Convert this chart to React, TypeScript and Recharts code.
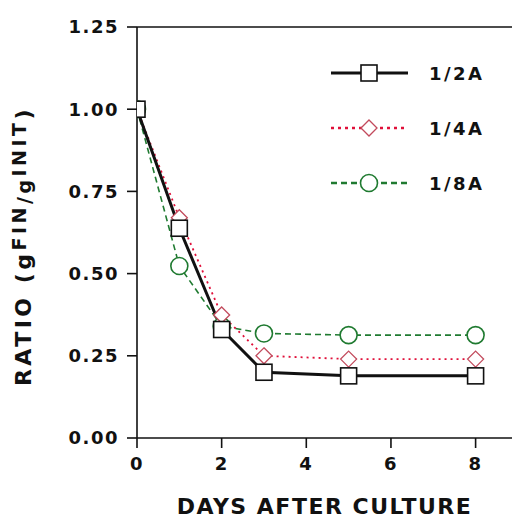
import React from 'react'
import {
  LineChart,
  Line,
  XAxis,
  YAxis,
  ReferenceLine,
} from 'recharts'

const days = [0, 1, 2, 3, 5, 8]
const halfA = [1.0, 0.638, 0.33, 0.2, 0.189, 0.189]
const quarterA = [1.0, 0.67, 0.374, 0.25, 0.24, 0.24]
const eighthA = [1.0, 0.523, 0.34, 0.318, 0.313, 0.313]

const xTicks = [0, 2, 4, 6, 8]
const yTicks = [0, 0.25, 0.5, 0.75, 1.0, 1.25]

const data = days.map((d, i) => ({
  day: d,
  half: halfA[i],
  quarter: quarterA[i],
  eighth: eighthA[i],
}))

const FONT = '"DejaVu Sans", Arial, sans-serif'

const SquareDot = (props: any) => {
  const { cx, cy } = props
  if (cx == null || cy == null) return null
  return <rect x={cx - 8} y={cy - 8} width={16} height={16} fill="#fff" stroke="#111" strokeWidth={1.6} />
}

const DiamondDot = (props: any) => {
  const { cx, cy } = props
  if (cx == null || cy == null) return null
  const s = 8
  return (
    <polygon
      points={`${cx},${cy - s} ${cx + s},${cy} ${cx},${cy + s} ${cx - s},${cy}`}
      fill="#fff"
      stroke="#c24a5c"
      strokeWidth={1.3}
    />
  )
}

const CircleDot = (props: any) => {
  const { cx, cy } = props
  if (cx == null || cy == null) return null
  return <circle cx={cx} cy={cy} r={8.5} fill="#fff" stroke="#1f7a30" strokeWidth={1.6} />
}

const legendRows = [
  { name: '1/2A', stroke: '#111', width: 3, dash: undefined, dot: SquareDot },
  { name: '1/4A', stroke: '#e0103a', width: 2.5, dash: '3 4', dot: DiamondDot },
  { name: '1/8A', stroke: '#1f7a30', width: 2.5, dash: '6 4', dot: CircleDot },
]

const LegendBox = () => (
  <svg width={175} height={140}>
    {legendRows.map((r, i) => {
      const y = 13 + i * 55
      const Dot = r.dot
      return (
        <g key={r.name}>
          <line x1={1} x2={78} y1={y} y2={y} stroke={r.stroke} strokeWidth={r.width} strokeDasharray={r.dash} />
          <Dot cx={39} cy={y} />
          <text
            x={99}
            y={y + 7}
            fontFamily={FONT}
            fontWeight="bold"
            fontSize={18}
            letterSpacing={2.5}
            fill="#111"
          >
            {r.name}
          </text>
        </g>
      )
    })}
  </svg>
)

const YLabel = () => (
  <text
    transform="translate(31,246) rotate(-90)"
    textAnchor="middle"
    fontFamily={FONT}
    fontWeight="bold"
    fontSize={22}
    letterSpacing={3.5}
    fill="#111"
  >
    <tspan>RATIO (g</tspan>
    <tspan fontSize={19} dy={-5}>FIN</tspan>
    <tspan fontSize={19} dy={5}>/g</tspan>
    <tspan fontSize={19} dy={-5}>INIT</tspan>
    <tspan dy={5}>)</tspan>
  </text>
)

const tickStyle = { fontFamily: FONT, fontWeight: 'bold', fontSize: 18, fill: '#111', letterSpacing: 1.5 }

export default function App() {
  return (
    <div style={{ position: 'absolute', left: 0, top: 0, width: 512, height: 520, background: '#fff' }}>
      <LineChart width={512} height={520} data={data} margin={{ top: 27, right: 0, bottom: 0, left: 0 }}>
        <XAxis
          dataKey="day"
          type="number"
          domain={[0, 8.86]}
          ticks={xTicks}
          allowDataOverflow
          height={82}
          tickSize={10}
          tickMargin={9}
          tick={tickStyle}
          axisLine={{ stroke: '#111', strokeWidth: 1.6 }}
          tickLine={{ stroke: '#111', strokeWidth: 1.6 }}
          label={{
            value: 'DAYS AFTER CULTURE',
            position: 'insideBottom',
            offset: 6,
            style: { fontFamily: FONT, fontWeight: 'bold', fontSize: 22, fill: '#111', letterSpacing: 1.5 },
          }}
        />
        <YAxis
          type="number"
          domain={[0, 1.25]}
          ticks={yTicks}
          width={137}
          tickSize={10}
          tickMargin={8}
          tick={tickStyle}
          tickFormatter={(v: number) => v.toFixed(2)}
          axisLine={{ stroke: '#111', strokeWidth: 1.6 }}
          tickLine={{ stroke: '#111', strokeWidth: 1.6 }}
          label={<YLabel />}
        />
        <ReferenceLine y={1.25} stroke="#111" strokeWidth={1.6} />
        <Line
          dataKey="eighth"
          name="1/8A"
          stroke="#1f7a30"
          strokeWidth={1.6}
          strokeDasharray="6 4"
          dot={<CircleDot />}
          isAnimationActive={false}
        />
        <Line
          dataKey="quarter"
          name="1/4A"
          stroke="#e0103a"
          strokeWidth={1.8}
          strokeDasharray="2 4"
          dot={<DiamondDot />}
          isAnimationActive={false}
        />
        <Line
          dataKey="half"
          name="1/2A"
          stroke="#111"
          strokeWidth={3}
          dot={<SquareDot />}
          isAnimationActive={false}
        />
      </LineChart>
      <div style={{ position: 'absolute', left: 330, top: 60 }}>
        <LegendBox />
      </div>
    </div>
  )
}
